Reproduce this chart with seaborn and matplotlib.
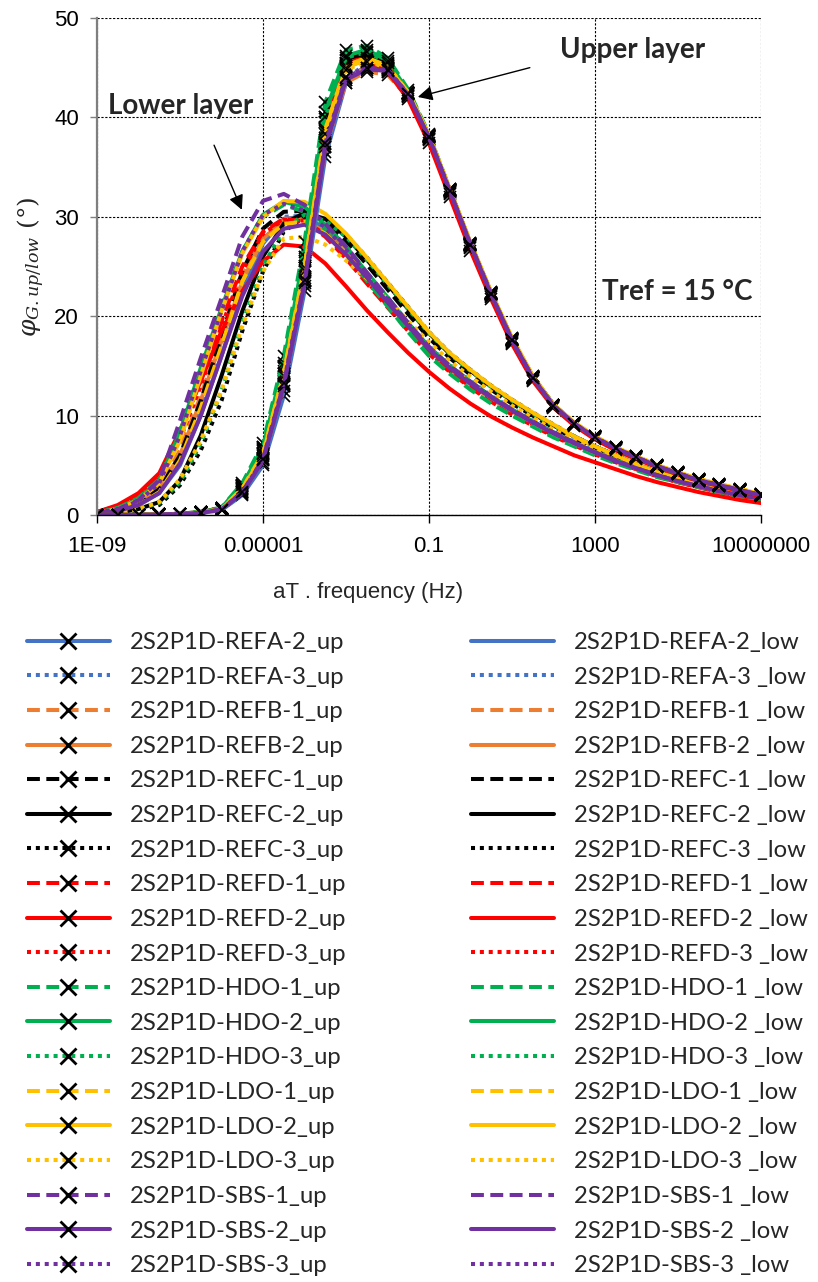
import matplotlib
matplotlib.use('Agg')
import matplotlib.pyplot as plt
import seaborn as sns
from matplotlib.ticker import FixedLocator, NullLocator

# frequency grid (log10 of aT.frequency), half-decade steps
log_freq = [-9, -8.5, -8, -7.5, -7, -6.5, -6, -5.5, -5, -4.5, -4, -3.5, -3, -2.5, -2, -1.5, -1,
            -0.5, 0, 0.5, 1, 1.5, 2, 2.5, 3, 3.5, 4, 4.5, 5, 5.5, 6, 6.5, 7]

series_names = ['REFA-2', 'REFA-3', 'REFB-1', 'REFB-2', 'REFC-1', 'REFC-2', 'REFC-3',
                'REFD-1', 'REFD-2', 'REFD-3', 'HDO-1', 'HDO-2', 'HDO-3',
                'LDO-1', 'LDO-2', 'LDO-3', 'SBS-1', 'SBS-2', 'SBS-3']
series_colors = ['#4472C4', '#4472C4', '#ED7D31', '#ED7D31', '#000000', '#000000', '#000000',
                 '#FF0000', '#FF0000', '#FF0000', '#00B050', '#00B050', '#00B050',
                 '#FFC000', '#FFC000', '#FFC000', '#7030A0', '#7030A0', '#7030A0']
series_styles = ['solid', 'dotted', 'dashed', 'solid', 'dashed', 'solid', 'dotted',
                 'dashed', 'solid', 'dotted', 'dashed', 'solid', 'dotted',
                 'dashed', 'solid', 'dotted', 'dashed', 'solid', 'dotted']

up_labels = ['2S2P1D-REFA-2_up', '2S2P1D-REFA-3_up', '2S2P1D-REFB-1_up', '2S2P1D-REFB-2_up',
             '2S2P1D-REFC-1_up', '2S2P1D-REFC-2_up', '2S2P1D-REFC-3_up', '2S2P1D-REFD-1_up',
             '2S2P1D-REFD-2_up', '2S2P1D-REFD-3_up', '2S2P1D-HDO-1_up', '2S2P1D-HDO-2_up',
             '2S2P1D-HDO-3_up', '2S2P1D-LDO-1_up', '2S2P1D-LDO-2_up', '2S2P1D-LDO-3_up',
             '2S2P1D-SBS-1_up', '2S2P1D-SBS-2_up', '2S2P1D-SBS-3_up']
low_labels = ['2S2P1D-REFA-2_low', '2S2P1D-REFA-3 _low', '2S2P1D-REFB-1 _low', '2S2P1D-REFB-2 _low',
              '2S2P1D-REFC-1 _low', '2S2P1D-REFC-2 _low', '2S2P1D-REFC-3 _low', '2S2P1D-REFD-1 _low',
              '2S2P1D-REFD-2 _low', '2S2P1D-REFD-3 _low', '2S2P1D-HDO-1 _low', '2S2P1D-HDO-2 _low',
              '2S2P1D-HDO-3 _low', '2S2P1D-LDO-1 _low', '2S2P1D-LDO-2 _low', '2S2P1D-LDO-3 _low',
              '2S2P1D-SBS-1 _low', '2S2P1D-SBS-2 _low', '2S2P1D-SBS-3 _low']

# upper layer phase angle (deg)
up_refa_2 = [0, 0, 0, 0.03, 0.08, 0.2, 0.5, 2.0, 5.0, 12.0, 22.5, 36.0, 43.5, 45.3, 44.9, 42.4, 38.1, 32.7, 27.3, 22.3, 17.7, 13.9, 11.1, 9.2, 7.8, 6.7, 5.8, 4.9, 4.2, 3.5, 3.0, 2.5, 2.0]
up_refa_3 = [0, 0, 0, 0.03, 0.08, 0.2, 0.5, 2.1, 5.2, 12.5, 23.0, 36.5, 43.8, 45.5, 45.0, 42.4, 38.1, 32.7, 27.2, 22.2, 17.6, 13.8, 11.0, 9.2, 7.8, 6.7, 5.8, 4.9, 4.2, 3.5, 3.0, 2.5, 2.0]
up_refb_1 = [0, 0, 0, 0.04, 0.1, 0.2, 0.55, 2.3, 5.5, 13.0, 23.5, 37.0, 43.5, 44.6, 44.3, 42.0, 37.8, 32.5, 27.1, 22.1, 17.5, 13.8, 11.0, 9.2, 7.8, 6.7, 5.8, 4.9, 4.2, 3.5, 3.0, 2.5, 2.0]
up_refb_2 = [0, 0, 0, 0.04, 0.1, 0.22, 0.55, 2.4, 5.7, 13.2, 23.8, 37.3, 44.0, 45.0, 44.6, 42.1, 37.9, 32.5, 27.1, 22.1, 17.5, 13.8, 11.0, 9.2, 7.8, 6.7, 5.8, 4.9, 4.2, 3.5, 3.0, 2.5, 2.0]
up_refc_1 = [0, 0, 0, 0.05, 0.1, 0.25, 0.6, 2.7, 6.2, 14.5, 25.0, 39.0, 45.5, 46.3, 45.3, 42.5, 38.1, 32.7, 27.3, 22.3, 17.7, 13.9, 11.1, 9.2, 7.8, 6.7, 5.8, 4.9, 4.2, 3.5, 3.0, 2.5, 2.0]
up_refc_2 = [0, 0, 0, 0.05, 0.1, 0.25, 0.6, 2.8, 6.4, 14.8, 25.5, 39.5, 45.8, 46.5, 45.4, 42.5, 38.1, 32.7, 27.3, 22.3, 17.7, 13.9, 11.1, 9.2, 7.8, 6.7, 5.8, 4.9, 4.2, 3.5, 3.0, 2.5, 2.0]
up_refc_3 = [0, 0, 0, 0.05, 0.1, 0.25, 0.6, 2.6, 6.0, 14.2, 24.8, 38.8, 45.3, 46.2, 45.2, 42.4, 38.0, 32.6, 27.2, 22.2, 17.6, 13.8, 11.0, 9.2, 7.8, 6.7, 5.8, 4.9, 4.2, 3.5, 3.0, 2.5, 2.0]
up_refd_1 = [0, 0, 0, 0.05, 0.12, 0.3, 0.7, 3.0, 6.8, 15.0, 26.0, 40.0, 45.5, 46.0, 45.0, 42.2, 37.8, 32.4, 27.0, 22.0, 17.4, 13.7, 10.9, 9.1, 7.7, 6.6, 5.7, 4.8, 4.1, 3.4, 2.9, 2.4, 1.9]
up_refd_2 = [0, 0, 0, 0.05, 0.12, 0.3, 0.7, 2.9, 6.6, 14.8, 25.5, 39.5, 45.2, 45.7, 44.6, 41.8, 37.4, 32.0, 26.6, 21.7, 17.2, 13.5, 10.8, 9.0, 7.6, 6.5, 5.6, 4.8, 4.1, 3.4, 2.9, 2.4, 1.9]
up_refd_3 = [0, 0, 0, 0.05, 0.12, 0.3, 0.7, 2.9, 6.7, 14.9, 25.8, 39.8, 45.4, 45.9, 44.9, 42.1, 37.7, 32.3, 26.9, 21.9, 17.3, 13.6, 10.9, 9.1, 7.7, 6.6, 5.7, 4.8, 4.1, 3.4, 2.9, 2.4, 1.9]
up_hdo_1 = [0, 0, 0, 0.06, 0.14, 0.32, 0.75, 3.2, 7.2, 16.0, 27.5, 41.5, 46.8, 47.2, 46.0, 42.8, 38.3, 32.8, 27.3, 22.3, 17.7, 13.9, 11.1, 9.2, 7.8, 6.7, 5.8, 4.9, 4.2, 3.5, 3.0, 2.5, 2.0]
up_hdo_2 = [0, 0, 0, 0.05, 0.13, 0.3, 0.7, 3.0, 6.8, 15.3, 26.5, 40.5, 46.2, 46.8, 45.7, 42.6, 38.2, 32.7, 27.3, 22.3, 17.7, 13.9, 11.1, 9.2, 7.8, 6.7, 5.8, 4.9, 4.2, 3.5, 3.0, 2.5, 2.0]
up_hdo_3 = [0, 0, 0, 0.05, 0.12, 0.3, 0.7, 2.9, 6.5, 15.0, 26.0, 40.0, 46.0, 46.6, 45.5, 42.5, 38.1, 32.7, 27.2, 22.2, 17.6, 13.8, 11.0, 9.2, 7.8, 6.7, 5.8, 4.9, 4.2, 3.5, 3.0, 2.5, 2.0]
up_ldo_1 = [0, 0, 0, 0.05, 0.1, 0.25, 0.6, 2.7, 6.2, 14.3, 25.0, 38.8, 45.2, 46.0, 45.2, 42.5, 38.2, 32.8, 27.4, 22.4, 17.8, 14.0, 11.1, 9.3, 7.9, 6.8, 5.9, 5.0, 4.3, 3.6, 3.1, 2.6, 2.1]
up_ldo_2 = [0, 0, 0, 0.05, 0.1, 0.25, 0.6, 2.6, 6.1, 14.2, 24.8, 38.6, 45.0, 45.8, 45.1, 42.5, 38.2, 32.8, 27.4, 22.4, 17.8, 14.0, 11.1, 9.3, 7.9, 6.8, 5.9, 5.0, 4.3, 3.6, 3.1, 2.6, 2.1]
up_ldo_3 = [0, 0, 0, 0.05, 0.1, 0.24, 0.6, 2.5, 5.9, 14.0, 24.5, 38.3, 44.8, 45.6, 45.0, 42.4, 38.1, 32.7, 27.3, 22.3, 17.7, 13.9, 11.1, 9.3, 7.9, 6.8, 5.9, 5.0, 4.3, 3.6, 3.1, 2.6, 2.1]
up_sbs_1 = [0, 0, 0, 0.04, 0.1, 0.22, 0.55, 2.3, 5.6, 13.2, 23.5, 37.3, 44.0, 45.0, 44.8, 42.3, 38.0, 32.6, 27.2, 22.2, 17.6, 13.8, 11.0, 9.2, 7.8, 6.7, 5.8, 4.9, 4.2, 3.5, 3.0, 2.5, 2.0]
up_sbs_2 = [0, 0, 0, 0.04, 0.1, 0.22, 0.55, 2.2, 5.5, 13.0, 23.3, 37.0, 43.8, 44.8, 44.7, 42.3, 38.0, 32.6, 27.2, 22.2, 17.6, 13.8, 11.0, 9.2, 7.8, 6.7, 5.8, 4.9, 4.2, 3.5, 3.0, 2.5, 2.0]
up_sbs_3 = [0, 0, 0, 0.04, 0.1, 0.22, 0.55, 2.3, 5.6, 13.3, 23.6, 37.4, 44.1, 45.0, 44.8, 42.3, 38.0, 32.6, 27.2, 22.2, 17.6, 13.8, 11.0, 9.2, 7.8, 6.7, 5.8, 4.9, 4.2, 3.5, 3.0, 2.5, 2.0]

# lower layer phase angle (deg)
low_refa_2 = [0.1, 0.4, 1.0, 2.2, 5.0, 10.0, 16.0, 22.5, 27.3, 29.8, 30.0, 28.8, 26.7, 24.2, 21.7, 19.2, 16.9, 15.0, 13.4, 11.9, 10.6, 9.4, 8.3, 7.3, 6.3, 5.5, 4.7, 4.0, 3.4, 2.9, 2.4, 2.0, 1.7]
low_refa_3 = [0.1, 0.4, 1.1, 2.4, 5.4, 10.5, 16.5, 23.0, 27.6, 30.0, 30.1, 28.9, 26.8, 24.3, 21.8, 19.3, 17.0, 15.1, 13.5, 12.0, 10.7, 9.5, 8.4, 7.4, 6.4, 5.5, 4.7, 4.0, 3.4, 2.9, 2.4, 2.0, 1.7]
low_refb_1 = [0.2, 0.6, 1.4, 3.0, 6.5, 12.0, 18.0, 24.0, 28.0, 29.8, 29.8, 28.5, 26.4, 24.0, 21.5, 19.0, 16.7, 14.8, 13.2, 11.8, 10.5, 9.3, 8.2, 7.2, 6.3, 5.4, 4.7, 4.0, 3.4, 2.9, 2.4, 2.0, 1.7]
low_refb_2 = [0.2, 0.6, 1.3, 2.8, 6.0, 11.5, 17.5, 23.5, 27.8, 29.6, 29.7, 28.4, 26.3, 23.9, 21.4, 18.9, 16.6, 14.7, 13.1, 11.7, 10.4, 9.2, 8.1, 7.1, 6.2, 5.4, 4.6, 3.9, 3.3, 2.8, 2.3, 1.9, 1.6]
low_refc_1 = [0.1, 0.5, 1.2, 2.6, 6.0, 11.5, 18.0, 24.5, 28.8, 30.5, 30.6, 29.5, 27.6, 25.2, 22.7, 20.2, 17.8, 15.8, 14.1, 12.6, 11.2, 10.0, 8.8, 7.7, 6.8, 5.9, 5.0, 4.3, 3.6, 3.1, 2.6, 2.2, 1.8]
low_refc_2 = [0.0, 0.2, 0.6, 1.3, 3.5, 8.0, 14.0, 20.5, 26.0, 29.3, 30.4, 29.8, 28.0, 25.7, 23.2, 20.7, 18.3, 16.2, 14.5, 12.9, 11.5, 10.2, 9.0, 7.9, 6.9, 6.0, 5.1, 4.3, 3.7, 3.1, 2.6, 2.2, 1.9]
low_refc_3 = [0.0, 0.2, 0.5, 1.0, 3.0, 6.5, 11.5, 18.5, 24.5, 28.5, 30.0, 29.7, 28.2, 25.9, 23.4, 20.9, 18.4, 16.3, 14.6, 13.0, 11.6, 10.3, 9.1, 7.9, 6.9, 6.0, 5.1, 4.3, 3.7, 3.1, 2.6, 2.2, 1.9]
low_refd_1 = [0.3, 0.9, 2.0, 4.0, 8.2, 13.5, 19.5, 25.0, 28.5, 29.8, 29.5, 28.0, 25.8, 23.3, 20.9, 18.5, 16.2, 14.4, 12.8, 11.4, 10.1, 9.0, 7.9, 7.0, 6.1, 5.3, 4.6, 3.9, 3.3, 2.8, 2.3, 1.9, 1.6]
low_refd_2 = [0.3, 1.0, 2.2, 4.2, 8.5, 13.5, 18.5, 22.5, 25.5, 27.2, 27.0, 25.3, 23.0, 20.6, 18.4, 16.3, 14.4, 12.7, 11.2, 9.9, 8.8, 7.8, 6.9, 6.0, 5.3, 4.6, 3.9, 3.3, 2.8, 2.3, 1.9, 1.5, 1.2]
low_refd_3 = [0.2, 0.8, 1.8, 3.6, 7.6, 13.0, 19.0, 24.5, 28.3, 29.7, 29.6, 28.2, 26.0, 23.5, 21.1, 18.7, 16.4, 14.5, 12.9, 11.5, 10.2, 9.1, 8.0, 7.1, 6.2, 5.3, 4.6, 3.9, 3.3, 2.8, 2.3, 1.9, 1.6]
low_hdo_1 = [0.2, 0.7, 1.7, 3.6, 8.5, 15.0, 21.0, 26.5, 30.0, 31.2, 30.5, 28.5, 26.2, 23.6, 21.0, 18.4, 16.0, 14.2, 12.6, 11.2, 10.0, 8.9, 7.8, 6.9, 6.0, 5.2, 4.5, 3.8, 3.3, 2.8, 2.3, 1.9, 1.6]
low_hdo_2 = [0.2, 0.7, 1.6, 3.5, 8.3, 14.8, 20.8, 26.5, 30.2, 31.5, 31.0, 29.2, 27.0, 24.4, 21.9, 19.3, 16.9, 15.0, 13.4, 11.9, 10.6, 9.4, 8.3, 7.3, 6.3, 5.5, 4.7, 4.0, 3.4, 2.9, 2.4, 2.0, 1.7]
low_hdo_3 = [0.0, 0.2, 0.6, 1.2, 3.3, 7.2, 12.5, 19.3, 25.0, 28.8, 30.2, 29.6, 28.0, 25.7, 23.2, 20.7, 18.3, 16.2, 14.5, 12.9, 11.5, 10.2, 9.0, 7.9, 6.9, 6.0, 5.1, 4.3, 3.7, 3.1, 2.6, 2.2, 1.9]
low_ldo_1 = [0.1, 0.4, 1.0, 2.3, 5.5, 10.8, 17.0, 23.5, 27.5, 29.3, 29.5, 28.3, 26.3, 24.0, 21.6, 19.1, 16.8, 14.9, 13.3, 11.8, 10.5, 9.3, 8.2, 7.2, 6.3, 5.5, 4.7, 4.0, 3.4, 2.9, 2.4, 2.0, 1.7]
low_ldo_2 = [0.2, 0.6, 1.5, 3.2, 7.5, 14.0, 20.5, 26.3, 30.0, 31.6, 31.5, 30.3, 28.3, 25.9, 23.4, 20.9, 18.4, 16.3, 14.6, 13.0, 11.6, 10.3, 9.1, 7.9, 6.9, 6.0, 5.1, 4.3, 3.7, 3.1, 2.6, 2.2, 1.9]
low_ldo_3 = [0.0, 0.2, 0.6, 1.3, 3.6, 7.5, 12.5, 19.0, 24.5, 27.8, 28.0, 27.2, 25.6, 23.8, 21.7, 19.5, 17.4, 15.5, 13.9, 12.4, 11.0, 9.8, 8.6, 7.6, 6.6, 5.7, 4.9, 4.2, 3.6, 3.0, 2.5, 2.1, 1.8]
low_sbs_1 = [0.2, 0.6, 1.5, 3.5, 9.5, 15.8, 21.8, 28.0, 31.6, 32.3, 31.2, 29.3, 27.0, 24.4, 21.9, 19.3, 16.9, 15.0, 13.4, 11.9, 10.6, 9.4, 8.3, 7.3, 6.3, 5.5, 4.7, 4.0, 3.4, 2.9, 2.4, 2.0, 1.7]
low_sbs_2 = [0.1, 0.4, 1.0, 2.2, 5.2, 10.0, 16.0, 22.0, 26.5, 28.8, 29.2, 28.2, 26.2, 23.9, 21.4, 19.0, 16.7, 14.8, 13.2, 11.8, 10.5, 9.3, 8.2, 7.2, 6.3, 5.4, 4.7, 4.0, 3.4, 2.9, 2.4, 2.0, 1.7]
low_sbs_3 = [0.2, 0.6, 1.4, 3.2, 8.0, 14.5, 20.5, 26.5, 30.2, 31.3, 30.6, 28.9, 26.7, 24.2, 21.7, 19.2, 16.8, 14.9, 13.3, 11.9, 10.6, 9.4, 8.3, 7.3, 6.3, 5.5, 4.7, 4.0, 3.4, 2.9, 2.4, 2.0, 1.7]

up_values = [up_refa_2, up_refa_3, up_refb_1, up_refb_2, up_refc_1, up_refc_2, up_refc_3,
             up_refd_1, up_refd_2, up_refd_3, up_hdo_1, up_hdo_2, up_hdo_3,
             up_ldo_1, up_ldo_2, up_ldo_3, up_sbs_1, up_sbs_2, up_sbs_3]
low_values = [low_refa_2, low_refa_3, low_refb_1, low_refb_2, low_refc_1, low_refc_2, low_refc_3,
              low_refd_1, low_refd_2, low_refd_3, low_hdo_1, low_hdo_2, low_hdo_3,
              low_ldo_1, low_ldo_2, low_ldo_3, low_sbs_1, low_sbs_2, low_sbs_3]

xtick_vals = [1e-9, 1e-5, 1e-1, 1e3, 1e7]
xtick_labels = ['1E-09', '0.00001', '0.1', '1000', '10000000']
ytick_vals = [0, 10, 20, 30, 40, 50]

sns.set_style('ticks')
plt.rcParams['font.family'] = ['Liberation Sans', 'DejaVu Sans']
plt.rcParams['mathtext.fontset'] = 'dejavuserif'

dash_map = {'solid': '-', 'dashed': (0, (3.2, 1.6)), 'dotted': (0, (1, 1.2))}
freq = [10 ** v for v in log_freq]

fig = plt.figure(figsize=(8.18, 12.82), dpi=100)
ax = fig.add_axes([0.1186, 0.5983, 0.8117, 0.3877])
ax.set_xscale('log')

low_handles = []
for vals, col, sty in zip(low_values, series_colors, series_styles):
    sns.lineplot(x=freq, y=vals, ax=ax, color=col, linestyle=dash_map[sty], linewidth=2.9,
                 legend=False, sort=False)
    low_handles.append(ax.lines[-1])

up_handles = []
for vals, col, sty in zip(up_values, series_colors, series_styles):
    sns.lineplot(x=freq, y=vals, ax=ax, color=col, linestyle=dash_map[sty], linewidth=2.9,
                 marker='x', markersize=9, markeredgecolor='black', markeredgewidth=1.2,
                 legend=False, sort=False)
    up_handles.append(ax.lines[-1])

ax.set_xlim(1e-9, 1e7)
ax.set_ylim(0, 50)
ax.xaxis.set_major_locator(FixedLocator(xtick_vals))
ax.xaxis.set_minor_locator(NullLocator())
ax.set_xticklabels(xtick_labels)
ax.set_yticks(ytick_vals)
ax.grid(True, which='major', color='black', linestyle=(0, (2, 1.5)), linewidth=0.8)
ax.set_axisbelow(True)

for s in ['top', 'right']:
    ax.spines[s].set_visible(False)
ax.spines['left'].set_color('#7f7f7f')
ax.spines['left'].set_linewidth(1.6)
ax.spines['bottom'].set_color('black')
ax.spines['bottom'].set_linewidth(1.0)
ax.tick_params(axis='x', direction='out', length=6, width=1, colors='black', labelsize=16, pad=9)
ax.tick_params(axis='y', direction='out', length=5, width=1, color='#7f7f7f', labelcolor='black',
               labelsize=16, pad=8)

ax.set_xlabel('aT . frequency (Hz)', fontsize=16)
ax.xaxis.set_label_coords(0.408, -0.135)
ax.set_ylabel(r'$\varphi_{G.up/low}\ (°)$', fontsize=18)
ax.yaxis.set_label_coords(-0.075, 0.5)

bold = dict(fontsize=20, fontweight='bold', family=['Lato', 'DejaVu Sans'], va='center', ha='left')
ax.text(10 ** 2.16, 46.8, 'Upper layer', **bold)
ax.text(10 ** -8.735, 41.1, 'Lower layer', **bold)
ax.text(10 ** 3.17, 22.4, 'Tref = 15 °C', **bold)
arrow = dict(arrowstyle='-|>', color='black', lw=1.0, mutation_scale=22, shrinkA=0, shrinkB=0)
ax.annotate('', xy=(10 ** -1.27, 42.05), xytext=(10 ** 1.43, 45.0), arrowprops=arrow)
ax.annotate('', xy=(10 ** -5.51, 30.7), xytext=(10 ** -6.18, 37.2), arrowprops=arrow)

leg = fig.legend(up_handles + low_handles, up_labels + low_labels, ncol=2, loc='upper left',
                 bbox_to_anchor=(0.033, 0.507), frameon=False, borderpad=0, borderaxespad=0,
                 handlelength=3.47, handletextpad=0.84, columnspacing=5.2, labelspacing=0.57,
                 prop={'family': ['Lato', 'DejaVu Sans'], 'size': 17.2})
# bolder X in the legend than on the curves
for ln in leg.get_lines():
    ln.set_markersize(12)
    ln.set_markeredgewidth(2.0)

fig.savefig('out.png', dpi=100)
